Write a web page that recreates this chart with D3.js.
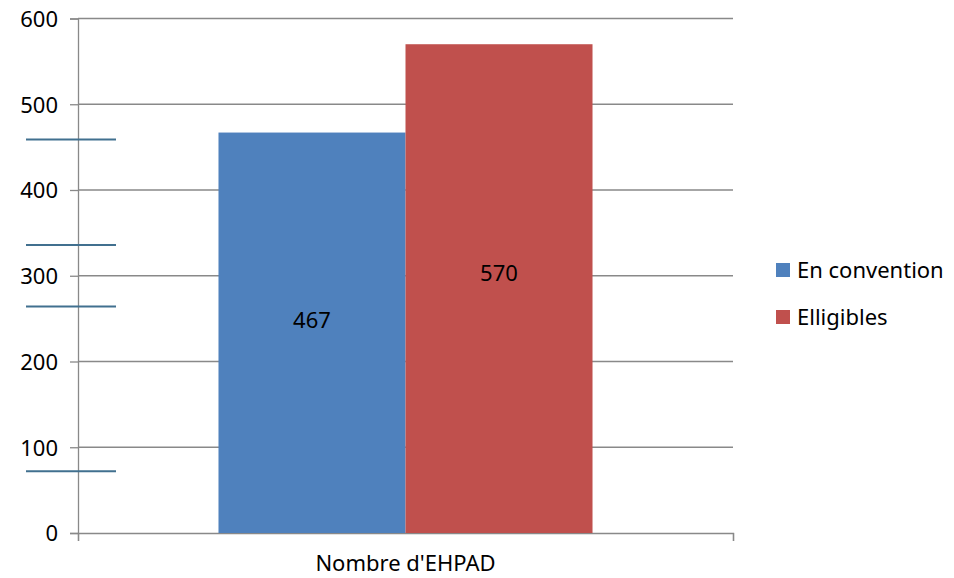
<!DOCTYPE html>
<html><head><meta charset="utf-8">
<script src="https://cdn.jsdelivr.net/npm/d3@7"></script>
<style>body{margin:0;background:#fff}text{font-family:"Noto Sans","Open Sans",sans-serif;fill:#000}</style>
</head><body>
<svg id="c" width="954" height="578"></svg>
<script>
const categories = ["Nombre d'EHPAD"];
const seriesNames = ["En convention", "Elligibles"];
const seriesValues = [467, 570];
const seriesColors = ["#4f81bd", "#c0504d"];
const yTicks = [0, 100, 200, 300, 400, 500, 600];
const strayLineValues = [459, 336, 264, 72];

const svg = d3.select("#c");
const L = 78, R = 733, T = 18.5, B = 533;
const y = d3.scaleLinear().domain([0, 600]).range([B, T]);
const x0 = d3.scaleBand().domain(categories).range([L, R]).paddingInner(0).paddingOuter(0.3756);
const x1 = d3.scaleBand().domain(seriesNames).range([0, x0.bandwidth()]);
const grey = "#898989";

// gridlines
svg.append("g").selectAll("line").data(yTicks.slice(1)).join("line")
  .attr("x1", L).attr("x2", R).attr("y1", d => y(d)).attr("y2", d => y(d))
  .attr("stroke", grey).attr("stroke-width", 1.3);

// y axis
const ya = svg.append("g").attr("transform", `translate(${L},0)`)
  .call(d3.axisLeft(y).tickValues(yTicks).tickSize(8).tickPadding(12));
ya.select(".domain").attr("stroke", grey).attr("stroke-width", 1.3);
ya.selectAll(".tick line").attr("stroke", grey).attr("stroke-width", 1.3);
ya.selectAll(".tick text").attr("font-size", 22).attr("dy", "0.36em");

// x axis
const xa = svg.append("g").attr("transform", `translate(0,${B})`)
  .call(d3.axisBottom(d3.scaleLinear().domain([0,1]).range([L, R])).tickValues([0,1]).tickSize(8).tickFormat(""));
xa.select(".domain").attr("stroke", grey).attr("stroke-width", 1.3);
xa.selectAll(".tick line").attr("stroke", grey).attr("stroke-width", 1.3);
svg.append("text").attr("x", x0(categories[0]) + x0.bandwidth()/2).attr("y", 563)
  .attr("text-anchor", "middle").attr("dy", "0.36em").attr("font-size", 22).text(categories[0]);

// bars
const g = svg.append("g").attr("transform", `translate(${x0(categories[0])},0)`);
g.selectAll("rect").data(seriesValues).join("rect")
  .attr("x", (d,i) => x1(seriesNames[i])).attr("width", x1.bandwidth())
  .attr("y", d => y(d)).attr("height", d => B - y(d))
  .attr("fill", (d,i) => seriesColors[i]);
g.selectAll("text.lbl").data(seriesValues).join("text").attr("class","lbl")
  .attr("x", (d,i) => x1(seriesNames[i]) + x1.bandwidth()/2)
  .attr("y", d => y(d*0.532)).attr("dy", "0.36em")
  .attr("text-anchor", "middle").attr("font-size", 22).text(d => d);

// stray short lines on the left
svg.append("g").selectAll("line").data(strayLineValues).join("line")
  .attr("x1", 26).attr("x2", 116).attr("y1", d => y(d)).attr("y2", d => y(d))
  .attr("stroke", "#41708f").attr("stroke-width", 2);

// legend
const lg = svg.append("g");
seriesNames.forEach((n, i) => {
  const cy = 270 + i*47;
  lg.append("rect").attr("x", 776).attr("y", cy - 7).attr("width", 14).attr("height", 14).attr("fill", seriesColors[i]);
  lg.append("text").attr("x", 797).attr("y", cy).attr("dy", "0.36em").attr("font-size", 22).text(n);
});
</script>
</body></html>
